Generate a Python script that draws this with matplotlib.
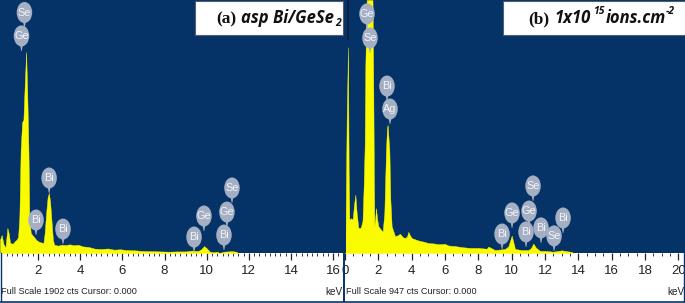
import matplotlib
matplotlib.use("Agg")
import matplotlib.pyplot as plt
from matplotlib.patches import Ellipse, Rectangle, Polygon
from matplotlib.ticker import MultipleLocator

W, H = 685, 303
NAVY = "#063367"
YEL = "#fbfb00"
BUB = "#a5afc4"

# Panel (a) spectrum
a_kev = [0.19, 0.27, 0.35, 0.45, 0.54, 0.60, 0.67, 0.80, 0.90, 0.98, 1.05, 1.11, 1.17, 1.24, 1.30, 1.36, 1.43, 1.49, 1.54, 1.58, 1.65, 1.72,
         1.78, 1.90, 2.00, 2.12, 2.25, 2.31, 2.38, 2.45, 2.51, 2.57, 2.63, 2.70, 2.76, 2.95, 3.10, 3.30, 3.50, 3.70, 3.90, 4.10, 4.40,
         4.70, 5.00, 5.30, 5.60, 5.90, 6.20, 6.60, 7.00, 7.40, 7.80, 8.20, 8.60, 9.00, 9.30, 9.60, 9.75, 9.88, 10.00, 10.15, 10.30,
         10.50, 10.60, 10.80, 11.00, 11.20, 11.40, 11.50]
a_cts = [100, 135, 70, 40, 188, 150, 75, 70, 90, 100, 120, 275, 775, 985, 1000, 1250, 1511, 1150, 775, 275, 150, 135,
         125, 100, 88, 80, 75, 150, 300, 420, 451, 380, 250, 100, 62, 55, 62, 60, 65, 58, 62, 50, 45,
         32, 30, 34, 25, 28, 22, 20, 15, 14, 12, 10, 12, 12, 18, 15, 30, 52, 35, 10, 6,
         10, 0, 10, 12, 14, 10, 0]

# Panel (b) spectrum
b_kev = [0.02, 0.10, 0.18, 0.22, 0.26, 0.36, 0.46, 0.54, 0.62, 0.70, 0.80, 0.94, 1.05, 1.12, 1.18, 1.22, 1.30, 1.40, 1.65, 1.70, 1.73, 1.76, 1.81,
         1.86, 1.92, 2.00, 2.12, 2.26, 2.36, 2.46, 2.52, 2.56, 2.62, 2.66, 2.72, 2.80, 3.00, 3.15, 3.30, 3.45, 3.60, 3.72, 3.80, 3.90, 4.00, 4.25,
         4.50, 4.75, 5.00, 5.30, 5.60, 6.00, 6.20, 6.60, 7.00, 7.50, 8.00, 8.50, 8.60, 9.00, 9.30, 9.60, 9.80, 10.00, 10.10, 10.20,
         10.60, 11.00, 11.15, 11.30, 11.45, 11.70, 12.00, 12.50, 13.00, 13.60, 13.70]
b_cts = [0, 500, 770, 300, 125, 130, 125, 180, 218, 150, 94, 94, 120, 250, 400, 700, 947, 947, 947, 600, 300, 100, 130,
         168, 130, 100, 90, 80, 150, 385, 470, 479, 420, 385, 200, 100, 63, 66, 72, 60, 56, 62, 79, 66, 56, 50,
         45, 42, 37, 36, 33, 34, 28, 26, 22, 19, 19, 16, 24, 11, 13, 15, 25, 65, 40, 15,
         11, 11, 18, 35, 20, 8, 8, 5, 10, 4, 0]

# Peak labels: element, keV, counts of the bubble centre
a_elements = ["Se", "Ge", "Bi", "Bi", "Bi", "Bi", "Ge", "Bi", "Ge", "Se"]
a_label_kev = [1.35, 1.21, 2.52, 1.90, 3.18, 9.40, 9.87, 10.82, 10.96, 11.20]
a_label_cts = [1808, 1632, 564, 248, 180, 120, 278, 135, 308, 489]
b_elements = ["Ge", "Se", "Bi", "Ag", "Bi", "Ge", "Bi", "Ge", "Se", "Bi", "Se", "Bi"]
b_label_kev = [1.32, 1.50, 2.52, 2.70, 9.42, 10.02, 10.86, 11.04, 11.28, 11.76, 12.54, 13.08]
b_label_cts = [895, 805, 625, 539, 71, 150, 79, 157, 251, 94, 64, 131]

fig = plt.figure(figsize=(W / 100, H / 100), dpi=100, facecolor="white")


def px_axes(x0, y0, x1, y1, **kw):
    return fig.add_axes([x0 / W, 1 - y1 / H, (x1 - x0) / W, (y1 - y0) / H], **kw)


def panel(x0, x1, k0_px, px_per_kev, full, kev, cts, names, lk, lc, ticks, minor, caption, kev_x):
    ax = px_axes(x0, 0, x1, 253, facecolor=NAVY)
    ax.set_xlim((x0 - k0_px) / px_per_kev, (x1 - k0_px) / px_per_kev)
    ax.set_ylim(0, full)
    ax.fill_between(kev, cts, 0, color=YEL, lw=0.3, zorder=2)
    ax.xaxis.set_major_locator(MultipleLocator(ticks))
    ax.xaxis.set_minor_locator(MultipleLocator(minor))
    ax.tick_params(axis="x", which="major", direction="out", length=5, width=0.9, pad=4,
                   labelsize=9.5, color="#222222", labelcolor="#222222")
    ax.tick_params(axis="x", which="minor", direction="out", length=2.5, width=0.7, color="#333333")
    for lab in ax.get_xticklabels():
        lab.set_family("Liberation Sans")
    ax.set_yticks([])
    for s in ax.spines.values():
        s.set_visible(False)
    sx, sy = full / 253, 1 / px_per_kev
    for n, k, c in zip(names, lk, lc):
        ax.add_patch(Polygon([(k - 2 * sy, c - 6 * sx), (k + 2 * sy, c - 6 * sx), (k + 0.3 * sy, c - 15 * sx),
                              (k - 0.3 * sy, c - 15 * sx)], closed=True, fc=BUB, ec="none", zorder=3))
        ax.add_patch(Ellipse((k, c), 15.5 * sy, 21 * sx, fc=BUB, ec="none", zorder=3))
        ax.text(k, c, n, color="#f2f4f8", fontsize=7.8, ha="center", va="center", zorder=4,
                family="Liberation Sans")
    fig.text(kev_x / W, 1 - 292 / H, "keV", fontsize=7.2, ha="left", va="center", color="#222222",
             family="Liberation Sans")
    fig.text((x0 + 1) / W, 1 - 292 / H, caption, fontsize=6.6, ha="left", va="center", color="#222222",
             family="Liberation Sans")
    return ax


axa = panel(0, 343, -4.0, 21.07, 1902, a_kev, a_cts, a_elements, a_label_kev, a_label_cts, 2, 0.25,
            "Full Scale 1902 cts Cursor: 0.000", 325)
axb = panel(345, 685, 345.0, 16.67, 947, b_kev, b_cts, b_elements, b_label_kev, b_label_cts, 2, 0.5,
            "Full Scale 947 cts Cursor: 0.000", 667)
axb.set_xlim(0, 340 / 16.67)
axb.plot([0.18, 0.18], [947, 800], color="#101c3a", lw=1.2, zorder=1)

# Decoration overlay in pixel coordinates
ov = px_axes(0, 0, W, H, facecolor="none")
ov.set_xlim(0, W)
ov.set_ylim(H, 0)
ov.axis("off")
ov.set_zorder(5)
ov.add_patch(Rectangle((343, 0), 3, 253, fc=NAVY, ec="none"))
ov.plot([344, 344], [253, 301], color=NAVY, lw=1.4)
ov.plot([0, 685], [301.5, 301.5], color=NAVY, lw=1.2)
ov.plot([0.5, 0.5], [253, 301], color=NAVY, lw=1.0)
ov.plot([684.5, 684.5], [253, 301], color=NAVY, lw=1.0)
ov.add_patch(Rectangle((195, 1), 148, 34, fc="white", ec="#555e6c", lw=0.8))
ov.add_patch(Rectangle((503, 1), 182, 34, fc="white", ec="#555e6c", lw=0.8))

SERIF = "Liberation Serif"
SANS = "Open Sans"
kw = dict(ha="left", va="center", color="#111111")
ov.text(216, 19, "(a)", family=SERIF, weight="bold", fontsize=12.5, **kw)
ov.text(241, 18, "asp Bi/GeSe", family=SANS, weight="bold", style="italic", fontsize=12, **kw)
ov.text(335, 24, "2", family=SANS, weight="bold", style="italic", fontsize=7.5, **kw)
ov.text(528, 19, "(b)", family=SERIF, weight="bold", fontsize=12.5, **kw)
ov.text(555, 18, "1x10", family=SANS, weight="bold", style="italic", fontsize=12, **kw)
ov.text(593, 12, "15", family=SANS, weight="bold", style="italic", fontsize=7.5, **kw)
ov.text(606, 18, "ions.cm", family=SANS, weight="bold", style="italic", fontsize=12, **kw)
ov.text(666, 12, "-2", family=SANS, weight="bold", style="italic", fontsize=7.5, **kw)

fig.savefig("out.png", dpi=100)
